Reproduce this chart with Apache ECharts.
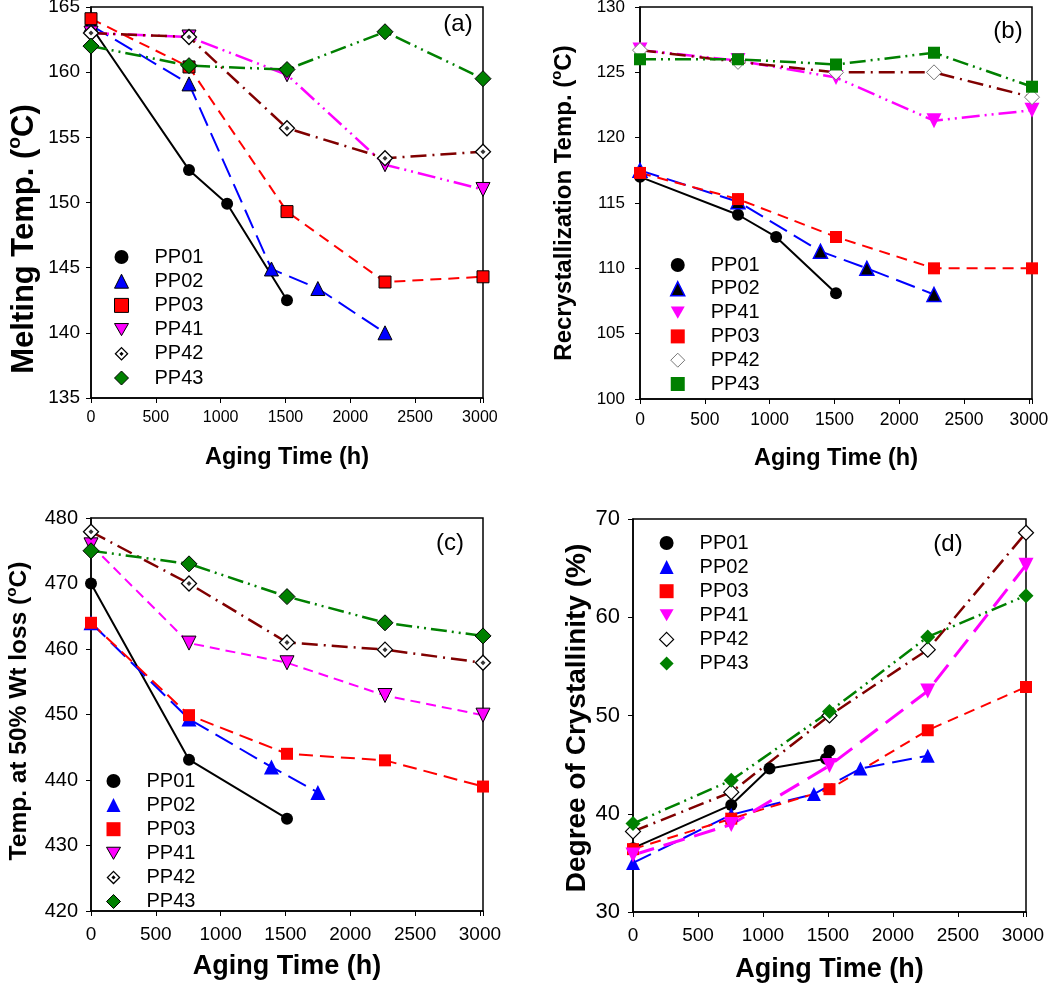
<!DOCTYPE html>
<html><head><meta charset="utf-8">
<script src="https://cdn.jsdelivr.net/npm/echarts@6/dist/echarts.min.js"></script>
<style>html,body{margin:0;padding:0;background:#fff}#c{width:1050px;height:993px}</style>
</head><body><div id="c"></div><script>
// ---------- data ----------
const SERIES_NAMES = ['PP01', 'PP02', 'PP03', 'PP41', 'PP42', 'PP43'];
const TIME5 = [0, 756, 1512, 2268, 3024];
const TIME_PP01 = [0, 756, 1050, 1512];
const TIME_PP02 = [0, 756, 1392, 1750, 2268];
const TIME_PP01_c = [0, 756, 1512];
const TIME_PP02_c = [0, 756, 1392, 1750];
const TIME_PP01_d = [0, 756, 1050, 1485, 1512];

// (a) melting temperature
const meltPP01 = [163.5, 152.5, 149.9, 142.5];
const meltPP02 = [163.6, 159.1, 144.9, 143.4, 140.0];
const meltPP03 = [164.1, 160.4, 149.3, 143.9, 144.3];
const meltPP41 = [163.0, 162.7, 159.8, 152.9, 151.0];
const meltPP42 = [163.0, 162.7, 155.7, 153.4, 153.9];
const meltPP43 = [162.0, 160.5, 160.2, 163.1, 159.5];
// (b) recrystallization temperature
const recrPP01 = [117.0, 114.1, 112.4, 108.1];
const recrPP02 = [117.5, 115.1, 111.3, 110.0, 108.0];
const recrPP41 = [126.7, 125.9, 124.6, 121.3, 122.1];
const recrPP03 = [117.3, 115.3, 112.4, 110.0, 110.0];
const recrPP42 = [126.7, 125.8, 125.0, 125.0, 123.1];
const recrPP43 = [126.0, 126.0, 125.6, 126.5, 123.9];
// (c) temperature at 50% weight loss
const t50PP01 = [470.0, 443.1, 434.1];
const t50PP02 = [464.0, 449.3, 442.0, 438.1];
const t50PP03 = [464.0, 449.9, 444.0, 443.0, 439.0];
const t50PP41 = [475.9, 460.9, 457.9, 452.9, 449.9];
const t50PP42 = [477.9, 470.0, 461.0, 459.9, 457.9];
const t50PP43 = [475.0, 473.0, 468.0, 464.0, 462.0];
// (d) degree of crystallinity
const crysPP01 = [36.5, 40.9, 44.6, 45.6, 46.4];
const crysPP02 = [35.0, 39.9, 42.0, 44.6, 45.9];
const crysPP03 = [36.4, 39.5, 42.5, 48.5, 52.9];
const crysPP41 = [35.8, 38.9, 44.9, 52.5, 65.3];
const crysPP42 = [38.2, 42.2, 50.0, 56.7, 68.6];
const crysPP43 = [39.0, 43.4, 50.4, 58.0, 62.2];

// axis ranges [min, max, interval]
const X_RANGE = [0, 3024, 500];
const Y_RANGE_A = [135, 165, 5];
const Y_RANGE_B = [100, 130, 5];
const Y_RANGE_C = [420, 480, 10];
const Y_RANGE_D = [30, 70, 10];
const PANEL_TAGS = ['(a)', '(b)', '(c)', '(d)'];
const X_TITLE = 'Aging Time (h)';

// ---------- styles ----------
const FONT = "'Liberation Sans', Arial, Helvetica, sans-serif";
const C = {PP01:'#000000', PP02:'#0000FF', PP03:'#FF0000', PP41:'#FF00FF', PP42:'#800000', PP43:'#008000'};
const DOWN_TRI = 'path://M0,0L20,0L10,17.3Z';
const DOT_DIAMOND = 'path://M10,0L20,10L10,20L0,10ZM10,2.6L2.6,10L10,17.4L17.4,10ZM10,7L13,10L10,13L7,10Z';

function pairs(xs, ys) { return xs.map((x, i) => [x, ys[i]]); }

// marker spec: [symbol, size, rotate, fill, borderColor, borderWidth, dotted]
function build(gi, name, xs, ys, line, mk) {
  const out = [{
    type: 'line', name: name, xAxisIndex: gi, yAxisIndex: gi,
    data: pairs(xs, ys), clip: false,
    symbol: mk[0], symbolSize: mk[1], symbolRotate: mk[2], showAllSymbol: true,
    itemStyle: {color: mk[3], borderColor: mk[4] || mk[3], borderWidth: mk[5] || 0, opacity: 1},
    lineStyle: {color: line[0], width: line[1], type: line[2]},
    emphasis: {disabled: true}, animation: false, z: 2
  }];
  if (mk[6]) {
    out.push({
      type: 'scatter', name: name, xAxisIndex: gi, yAxisIndex: gi,
      data: pairs(xs, ys), symbol: 'diamond', symbolSize: 5,
      itemStyle: {color: '#000'}, emphasis: {disabled: true}, animation: false, z: 5
    });
  }
  return out;
}

const series = [];
// (a)
series.push(...build(0, 'PP01', TIME_PP01, meltPP01, [C.PP01, 2, 'solid'], ['circle', 12, 0, '#000']));
series.push(...build(0, 'PP02', TIME_PP02, meltPP02, [C.PP02, 2, [20, 8]], ['triangle', 14, 0, '#0000FF', '#000', 1]));
series.push(...build(0, 'PP03', TIME5, meltPP03, [C.PP03, 2, [11, 7]], ['rect', 12, 0, '#FF0000', '#000', 1]));
series.push(...build(0, 'PP41', TIME5, meltPP41, [C.PP41, 2.5, [18, 5, 2, 5, 2, 5]], ['triangle', 14, 180, '#FF00FF', '#000', 1]));
series.push(...build(0, 'PP42', TIME5, meltPP42, [C.PP42, 2.5, [16, 6, 2, 6]], ['diamond', 15, 0, '#FFFFFF', '#000', 1.3, true]));
series.push(...build(0, 'PP43', TIME5, meltPP43, [C.PP43, 2.5, [16, 5, 2, 5, 2, 5]], ['diamond', 16, 0, '#008000', '#000', 1]));
// (b)
series.push(...build(1, 'PP01', TIME_PP01, recrPP01, [C.PP01, 2, 'solid'], ['circle', 12, 0, '#000']));
series.push(...build(1, 'PP02', TIME_PP02, recrPP02, [C.PP02, 2, [20, 8]], ['triangle', 14, 0, '#000000', '#0000FF', 1.5]));
series.push(...build(1, 'PP41', TIME5, recrPP41, [C.PP41, 2.5, [18, 5, 2, 5, 2, 5]], ['triangle', 15, 180, '#FF00FF']));
series.push(...build(1, 'PP03', TIME5, recrPP03, [C.PP03, 2, [11, 7]], ['rect', 12, 0, '#FF0000']));
series.push(...build(1, 'PP42', TIME5, recrPP42, [C.PP42, 2.5, [16, 6, 2, 6]], ['diamond', 15, 0, '#FFFFFF', '#777', 1]));
series.push(...build(1, 'PP43', TIME5, recrPP43, [C.PP43, 2.5, [16, 5, 2, 5, 2, 5]], ['rect', 12, 0, '#008000']));
// (c)
series.push(...build(2, 'PP01', TIME_PP01_c, t50PP01, [C.PP01, 2, 'solid'], ['circle', 12, 0, '#000']));
series.push(...build(2, 'PP02', TIME_PP02_c, t50PP02, [C.PP02, 2, [20, 8]], ['triangle', 15, 0, '#0000FF']));
series.push(...build(2, 'PP03', TIME5, t50PP03, [C.PP03, 2, [14, 7]], ['rect', 12, 0, '#FF0000']));
series.push(...build(2, 'PP41', TIME5, t50PP41, [C.PP41, 2, [10, 6]], ['triangle', 14, 180, '#FF00FF', '#000', 1]));
series.push(...build(2, 'PP42', TIME5, t50PP42, [C.PP42, 2.5, [16, 6, 2, 6]], ['diamond', 15, 0, '#FFFFFF', '#000', 1.3, true]));
series.push(...build(2, 'PP43', TIME5, t50PP43, [C.PP43, 2.5, [16, 5, 2, 5, 2, 5]], ['diamond', 16, 0, '#008000', '#000', 1]));
// (d)
series.push(...build(3, 'PP01', TIME_PP01_d, crysPP01, [C.PP01, 2, 'solid'], ['circle', 12, 0, '#000']));
series.push(...build(3, 'PP02', TIME_PP02, crysPP02, [C.PP02, 2, [20, 8]], ['triangle', 14, 0, '#0000FF']));
series.push(...build(3, 'PP03', TIME5, crysPP03, [C.PP03, 2, [11, 7]], ['rect', 12, 0, '#FF0000']));
series.push(...build(3, 'PP41', TIME5, crysPP41, [C.PP41, 3, [22, 10]], ['triangle', 15, 180, '#FF00FF']));
series.push(...build(3, 'PP42', TIME5, crysPP42, [C.PP42, 2.5, [16, 6, 2, 6]], ['diamond', 15, 0, '#FFFFFF', '#000', 1.2]));
series.push(...build(3, 'PP43', TIME5, crysPP43, [C.PP43, 2.5, [16, 5, 2, 5, 2, 5]], ['diamond', 15, 0, '#008000']));

// ---------- layout ----------
const GRIDS = [
  {left: 91, top: 7, width: 392, height: 391},
  {left: 640, top: 7, width: 392, height: 392},
  {left: 91, top: 518, width: 392, height: 393},
  {left: 633, top: 519, width: 393, height: 393}
];
const XFONT = [16, 17.5, 19, 19];
const YFONT = [19, 17, 20, 22];
const XTITLE_FONT = [23.5, 23.5, 27, 27];
const XTITLE_GAP = [48, 48, 42, 44];
const YMARGIN = [11, 15, 13, 13];
const XMARGIN = [12, 12, 14, 14];

const xAxis = GRIDS.map((g, i) => ({
  type: 'value', gridIndex: i, min: X_RANGE[0], max: X_RANGE[1], interval: X_RANGE[2],
  axisLine: {show: true, lineStyle: {color: '#000', width: 1.5}},
  axisTick: {show: true, inside: false, length: 5, lineStyle: {color: '#000', width: 1}},
  axisLabel: {fontSize: XFONT[i], color: '#000', fontFamily: FONT, margin: XMARGIN[i],
    formatter: v => (v % 500 === 0 ? String(v) : '')},
  splitLine: {show: false},
  name: X_TITLE, nameLocation: 'middle', nameGap: XTITLE_GAP[i],
  nameTextStyle: {fontSize: XTITLE_FONT[i], fontWeight: 'bold', color: '#000', fontFamily: FONT}
}));
const YR = [Y_RANGE_A, Y_RANGE_B, Y_RANGE_C, Y_RANGE_D];
const yAxis = GRIDS.map((g, i) => ({
  type: 'value', gridIndex: i, min: YR[i][0], max: YR[i][1], interval: YR[i][2],
  axisLine: {show: true, lineStyle: {color: '#000', width: 1.5}},
  axisTick: {show: true, inside: false, length: 5, lineStyle: {color: '#000', width: 1}},
  axisLabel: {fontSize: YFONT[i], color: '#000', fontFamily: FONT, margin: YMARGIN[i]},
  splitLine: {show: false}
}));

const LEG_ICON = {
  a: {PP01: ['circle', '#000'], PP02: ['triangle', '#0000FF', '#000', 1], PP03: ['rect', '#FF0000', '#000', 1],
      PP41: [DOWN_TRI, '#FF00FF', '#000', 1], PP42: [DOT_DIAMOND, '#000'], PP43: ['diamond', '#008000', '#000', 1]},
  b: {PP01: ['circle', '#000'], PP02: ['triangle', '#000', '#0000FF', 1.5], PP41: [DOWN_TRI, '#FF00FF'],
      PP03: ['rect', '#FF0000'], PP42: ['diamond', '#FFFFFF', '#777', 1], PP43: ['rect', '#008000']},
  c: {PP01: ['circle', '#000'], PP02: ['triangle', '#0000FF'], PP03: ['rect', '#FF0000'],
      PP41: [DOWN_TRI, '#FF00FF', '#000', 1], PP42: [DOT_DIAMOND, '#000'], PP43: ['diamond', '#008000', '#000', 1]},
  d: {PP01: ['circle', '#000'], PP02: ['triangle', '#0000FF'], PP03: ['rect', '#FF0000'],
      PP41: [DOWN_TRI, '#FF00FF'], PP42: ['diamond', '#FFFFFF', '#000', 1.2], PP43: ['diamond', '#008000']}
};
const LEG_ORDER = {a: SERIES_NAMES, b: ['PP01', 'PP02', 'PP41', 'PP03', 'PP42', 'PP43'], c: SERIES_NAMES, d: SERIES_NAMES};
const LEG_POS = {a: [121, 257, 24.2], b: [677, 265, 23.8], c: [113, 781, 24.1], d: [666, 543, 24.1]};

const legend = ['a', 'b', 'c', 'd'].map(k => ({
  orient: 'vertical', left: LEG_POS[k][0] - 7, top: LEG_POS[k][1] - 10, padding: 0,
  itemWidth: 14, itemHeight: 14, itemGap: LEG_POS[k][2] - 20, selectedMode: false, symbolRotate: 0,
  textStyle: {fontSize: 20, lineHeight: 20, color: '#000', fontFamily: FONT, padding: [0, 0, 0, 21]},
  data: LEG_ORDER[k].map(n => {
    const s = LEG_ICON[k][n];
    return {name: n, icon: s[0], itemStyle: {color: s[1], borderColor: s[2] || s[1], borderWidth: s[3] || 0, opacity: 1}};
  })
}));

function yTitle(x, y, size, main) {
  return {
    type: 'text', x: x, y: y, rotation: Math.PI / 2,
    style: {
      text: '{b|' + main + ' (}{s|o}{b|C)}', align: 'center', verticalAlign: 'middle',
      rich: {
        b: {fontSize: size, fontWeight: 'bold', fontFamily: FONT, fill: '#000', lineHeight: size * 1.2, verticalAlign: 'middle'},
        s: {fontSize: size * 0.62, fontWeight: 'bold', fontFamily: FONT, fill: '#000', lineHeight: size * 0.8, verticalAlign: 'top'}
      }
    }
  };
}
const graphic = [
  yTitle(24, 239, 31, 'Melting Temp.'),
  yTitle(564, 203, 24, 'Recrystallization Temp.'),
  yTitle(19, 711, 24.5, 'Temp. at 50% Wt loss'),
  {type: 'text', x: 577, y: 718, rotation: Math.PI / 2,
   style: {text: 'Degree of Crystallinity (%)', align: 'center', verticalAlign: 'middle',
     font: 'bold 28px ' + FONT, fill: '#000'}},
  {type: 'text', x: 458, y: 24, style: {text: PANEL_TAGS[0], align: 'center', verticalAlign: 'middle', font: '24px ' + FONT, fill: '#000'}},
  {type: 'text', x: 1008, y: 31, style: {text: PANEL_TAGS[1], align: 'center', verticalAlign: 'middle', font: '24px ' + FONT, fill: '#000'}},
  {type: 'text', x: 450, y: 543, style: {text: PANEL_TAGS[2], align: 'center', verticalAlign: 'middle', font: '24px ' + FONT, fill: '#000'}},
  {type: 'text', x: 948, y: 544, style: {text: PANEL_TAGS[3], align: 'center', verticalAlign: 'middle', font: '24px ' + FONT, fill: '#000'}}
];

const chart = echarts.init(document.getElementById('c'), null, {renderer: 'canvas'});
chart.setOption({
  backgroundColor: '#fff',
  animation: false,
  grid: GRIDS.map(g => Object.assign({show: true, borderColor: '#000', borderWidth: 1.5, containLabel: false, outerBoundsMode: 'none'}, g)),
  xAxis: xAxis, yAxis: yAxis, legend: legend, series: series, graphic: graphic,
  tooltip: {show: false}
});
</script></body></html>
